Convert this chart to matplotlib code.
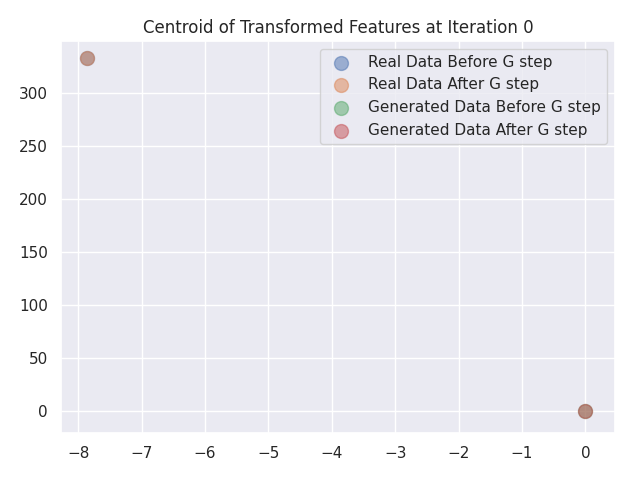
import matplotlib
matplotlib.use("Agg")
import matplotlib.pyplot as plt
import seaborn as sns

sns.set_theme(style="darkgrid")

labels = ["Real Data Before G step", "Real Data After G step",
          "Generated Data Before G step", "Generated Data After G step"]
xs = [[-7.87], [-7.87], [0.0], [0.0]]
ys = [[333.0], [333.0], [0.0], [0.0]]

fig, ax = plt.subplots(figsize=(6.4, 4.8), dpi=100)
for lab, x, y in zip(labels, xs, ys):
    ax.scatter(x, y, s=100, alpha=0.5, label=lab)
ax.set_title("Centroid of Transformed Features at Iteration 0")
ax.set_xlim(-8.273, 0.469)
ax.set_ylim(-21.1, 349.1)
ax.legend(loc="upper right")
fig.subplots_adjust(left=0.0953, right=0.961, top=0.9146, bottom=0.0979)
fig.savefig("out.png")
